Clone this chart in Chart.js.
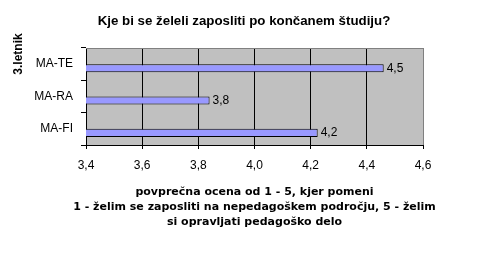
<!DOCTYPE html>
<html>
<head>
<meta charset="utf-8">
<script src="https://cdn.jsdelivr.net/npm/chart.js@4/dist/chart.umd.min.js"></script>
<style>
  html, body { margin: 0; padding: 0; background: #fff; }
  #wrap { width: 489px; height: 259px; position: relative; }
</style>
</head>
<body>
<div id="wrap"><canvas id="c" width="489" height="259"></canvas></div>
<script>
const chartTitle = 'Kje bi se želeli zaposliti po končanem študiju?';
const yTitle = '3.letnik';
const xTitle = ['povprečna ocena od 1 - 5, kjer pomeni', '1 - želim se zaposliti na nepedagoškem področju, 5 - želim', 'si opravljati pedagoško delo'];
const categories = ['MA-TE', 'MA-RA', 'MA-FI'];
const values = [4.46, 3.84, 4.225];
const emptySeries = [null, null, null];
const xMin = 3.4, xMax = 4.6, xStep = 0.2;

const FONT = '"Liberation Sans", Arial, sans-serif';
const FONT_WIDE = '"DejaVu Sans", Verdana, sans-serif';
const fmt = v => Number(v).toFixed(1).replace('.', ',');

const decor = {
  id: 'decor',
  beforeDraw(chart) {
    const {ctx, chartArea: a} = chart;
    ctx.save();
    ctx.fillStyle = '#C0C0C0';
    ctx.fillRect(a.left, a.top, a.right - a.left, a.bottom - a.top);
    ctx.restore();
  },
  afterDatasetsDraw(chart) {
    const {ctx, chartArea: a} = chart;
    ctx.save();
    // plot border (top / right)
    ctx.strokeStyle = '#808080';
    ctx.lineWidth = 1;
    ctx.beginPath();
    ctx.moveTo(a.left, Math.round(a.top) + 0.5);
    ctx.lineTo(Math.round(a.right) + 0.5, Math.round(a.top) + 0.5);
    ctx.lineTo(Math.round(a.right) + 0.5, a.bottom);
    ctx.stroke();
    // data labels
    ctx.fillStyle = '#000';
    ctx.font = '12px ' + FONT;
    ctx.textAlign = 'left';
    ctx.textBaseline = 'middle';
    const meta = chart.getDatasetMeta(1);
    meta.data.forEach((bar, i) => {
      ctx.fillText(fmt(values[i]), bar.x + 3, bar.y);
    });
    // chart title
    ctx.font = 'bold 13.3px ' + FONT;
    ctx.textAlign = 'center';
    ctx.fillText(chartTitle, 244, 21);
    // x axis title (3 lines, centred on the plot)
    ctx.font = 'bold 11px ' + FONT_WIDE;
    const cx = (a.left + a.right) / 2;
    xTitle.forEach((line, i) => ctx.fillText(line, cx, 192.5 + i * 15));
    // y title
    ctx.font = 'bold 12px ' + FONT;
    ctx.translate(18.5, 54);
    ctx.rotate(-Math.PI / 2);
    ctx.fillText(yTitle, 0, 0);
    ctx.restore();
  }
};

new Chart(document.getElementById('c'), {
  type: 'bar',
  data: {
    labels: categories,
    datasets: [
      { data: emptySeries, backgroundColor: '#FF9999' },
      { data: values, backgroundColor: '#9999FF', borderColor: '#000000', borderWidth: 1, borderSkipped: false }
    ]
  },
  options: {
    indexAxis: 'y',
    responsive: false,
    animation: false,
    devicePixelRatio: 1,
    categoryPercentage: 0.5,
    barPercentage: 1,
    layout: { padding: { top: 48, right: 66, left: 0, bottom: 0 } },
    plugins: { legend: { display: false }, tooltip: { enabled: false }, title: { display: false } },
    scales: {
      x: {
        type: 'linear',
        min: xMin, max: xMax,
        afterFit(s) { s.height = 114; },
        afterBuildTicks(s) {
          const t = [];
          for (let i = 0; i <= Math.round((xMax - xMin) / xStep); i++) t.push({ value: +(xMin + i * xStep).toFixed(1) });
          s.ticks = t;
        },
        ticks: { callback: v => fmt(v), color: '#000', font: { family: FONT, size: 12 }, padding: 9, maxRotation: 0, autoSkip: false },
        grid: {
          color: c => (c.index === 6 ? '#808080' : '#000000'),
          tickColor: '#000000',
          lineWidth: 1, tickLength: 4, drawOnChartArea: true
        },
        border: { display: true, color: '#000000', width: 1 },
        title: { display: false }
      },
      y: {
        type: 'category',
        afterFit(s) { s.width = 86; },
        ticks: { color: '#000', font: { family: FONT, size: 12 }, padding: 8 },
        grid: { drawOnChartArea: false, color: '#000000', tickLength: 5, offset: true },
        border: { display: true, color: '#000000', width: 1 }
      }
    }
  },
  plugins: [decor]
});
</script>
</body>
</html>
